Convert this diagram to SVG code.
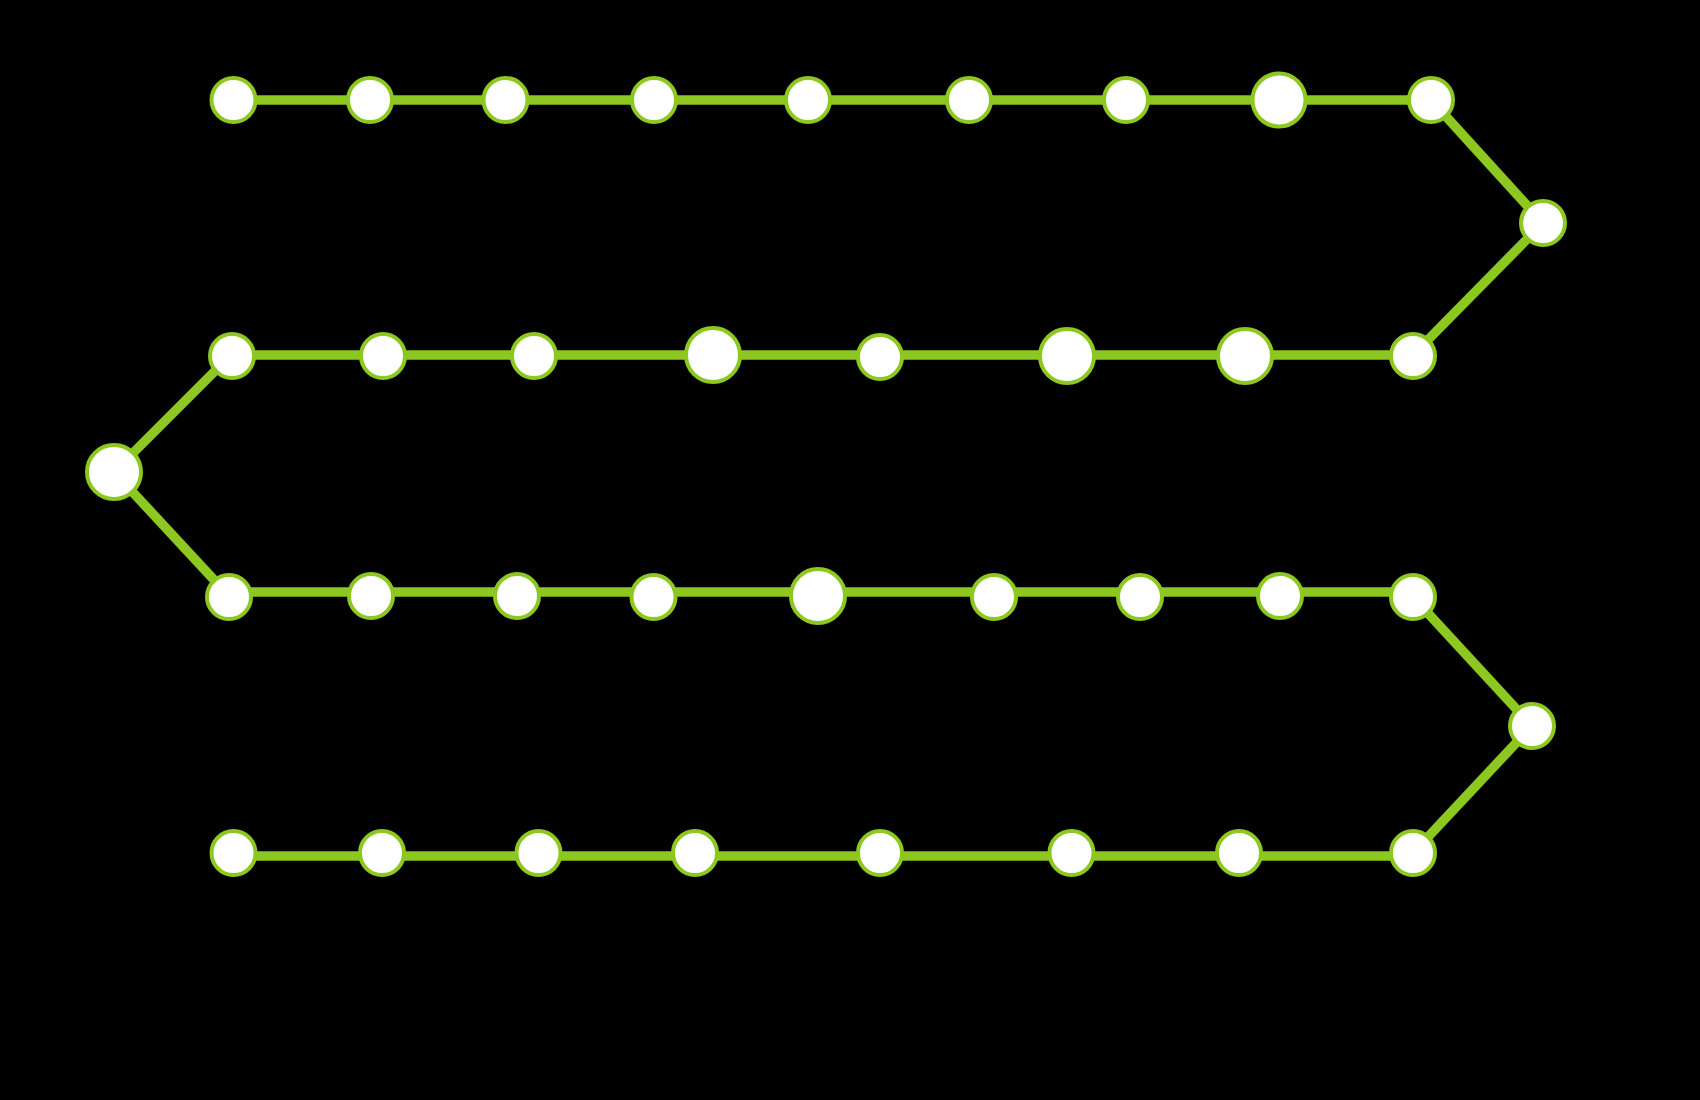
<svg xmlns="http://www.w3.org/2000/svg" width="1700" height="1100" viewBox="0 0 1700 1100">
<style>
.e{stroke:#8cc81f;stroke-width:9.5;fill:none;stroke-linejoin:round}
.n{fill:#ffffff;stroke:#8cc81f;stroke-width:4}
</style>
<rect width="1700" height="1100" fill="#000000"/>
<g id="connectors">
<line class="e" x1="233" y1="100" x2="1431" y2="100"/>
<line class="e" x1="1431" y1="100" x2="1543" y2="223"/>
<line class="e" x1="1543" y1="223" x2="1413" y2="355"/>
<line class="e" x1="1413" y1="355" x2="231" y2="355"/>
<line class="e" x1="231" y1="355" x2="114" y2="472"/>
<line class="e" x1="114" y1="472" x2="229" y2="596"/>
<line class="e" x1="229" y1="592" x2="1413" y2="592"/>
<line class="e" x1="1413" y1="597" x2="1532" y2="726"/>
<line class="e" x1="1532" y1="726" x2="1413" y2="853"/>
<line class="e" x1="1413" y1="856" x2="233" y2="856"/>
</g>
<g id="r1n1"><circle class="n" cx="233.5" cy="100" r="22"/></g>
<g id="r1n2"><circle class="n" cx="370" cy="100" r="22"/></g>
<g id="r1n3"><circle class="n" cx="505.5" cy="100" r="22"/></g>
<g id="r1n4"><circle class="n" cx="654" cy="100" r="22"/></g>
<g id="r1n5"><circle class="n" cx="808" cy="100" r="22"/></g>
<g id="r1n6"><circle class="n" cx="969" cy="100" r="22"/></g>
<g id="r1n7"><circle class="n" cx="1126" cy="100" r="22"/></g>
<g id="r1n8"><circle class="n" cx="1279" cy="100" r="26.5"/></g>
<g id="r1n9"><circle class="n" cx="1431" cy="100" r="22"/></g>
<g id="t1"><circle class="n" cx="1543" cy="223" r="22"/></g>
<g id="r2n8"><circle class="n" cx="1413" cy="356" r="22"/></g>
<g id="r2n7"><circle class="n" cx="1245" cy="356" r="27"/></g>
<g id="r2n6"><circle class="n" cx="1067" cy="356" r="27"/></g>
<g id="r2n5"><circle class="n" cx="880" cy="357" r="22"/></g>
<g id="r2n4"><circle class="n" cx="713" cy="355" r="27"/></g>
<g id="r2n3"><circle class="n" cx="534" cy="356" r="22"/></g>
<g id="r2n2"><circle class="n" cx="383" cy="356" r="22"/></g>
<g id="r2n1"><circle class="n" cx="232" cy="356" r="22"/></g>
<g id="t2"><circle class="n" cx="114" cy="472" r="27"/></g>
<g id="r3n1"><circle class="n" cx="229" cy="597" r="22"/></g>
<g id="r3n2"><circle class="n" cx="371" cy="596" r="22"/></g>
<g id="r3n3"><circle class="n" cx="517" cy="596" r="22"/></g>
<g id="r3n4"><circle class="n" cx="653.5" cy="597" r="22"/></g>
<g id="r3n5"><circle class="n" cx="818" cy="596" r="27"/></g>
<g id="r3n6"><circle class="n" cx="994" cy="597" r="22"/></g>
<g id="r3n7"><circle class="n" cx="1140" cy="597" r="22"/></g>
<g id="r3n8"><circle class="n" cx="1280" cy="596" r="22"/></g>
<g id="r3n9"><circle class="n" cx="1413" cy="597" r="22"/></g>
<g id="t3"><circle class="n" cx="1532" cy="726" r="22"/></g>
<g id="r4n8"><circle class="n" cx="1413" cy="853" r="22"/></g>
<g id="r4n7"><circle class="n" cx="1239" cy="853" r="22"/></g>
<g id="r4n6"><circle class="n" cx="1071.5" cy="853" r="22"/></g>
<g id="r4n5"><circle class="n" cx="880" cy="853" r="22"/></g>
<g id="r4n4"><circle class="n" cx="695" cy="853" r="22"/></g>
<g id="r4n3"><circle class="n" cx="538.5" cy="853" r="22"/></g>
<g id="r4n2"><circle class="n" cx="382" cy="853" r="22"/></g>
<g id="r4n1"><circle class="n" cx="233.5" cy="853" r="22"/></g>
</svg>
